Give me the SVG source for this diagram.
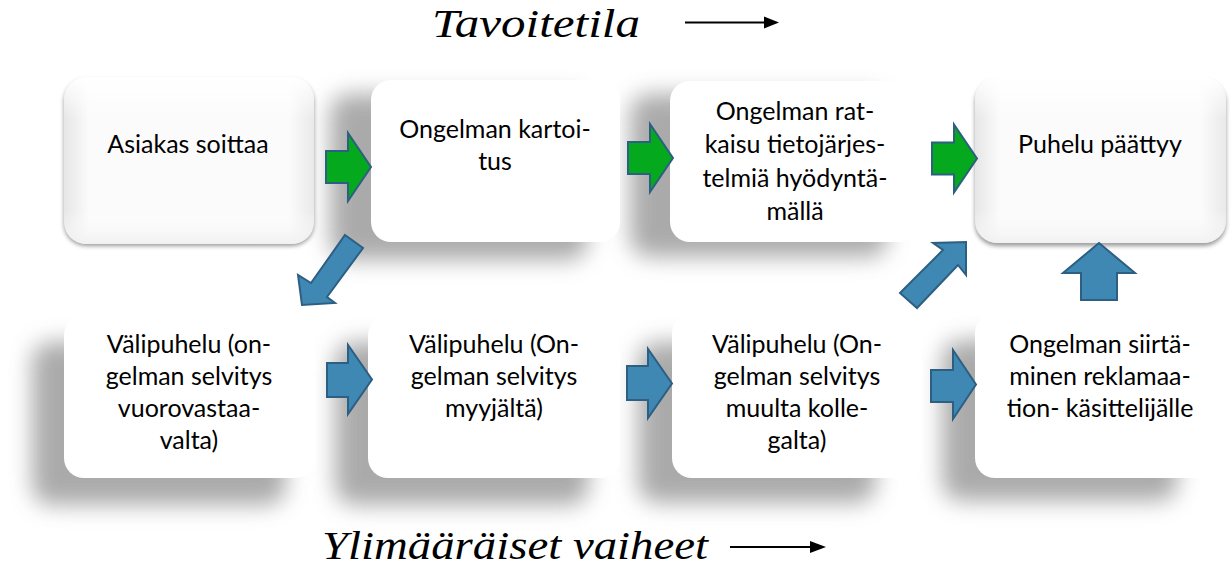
<svg xmlns="http://www.w3.org/2000/svg" width="1232" height="567" viewBox="0 0 1232 567">
<defs>
<filter id="sh" x="-30%" y="-30%" width="160%" height="160%"><feGaussianBlur stdDeviation="11"/></filter>
<filter id="sh2" x="-10%" y="-10%" width="120%" height="130%"><feGaussianBlur stdDeviation="2"/></filter>
<linearGradient id="bevH" x1="0" y1="0" x2="1" y2="0">
<stop offset="0" stop-color="#e6e6e6"/><stop offset="0.1" stop-color="#fbfbfb"/><stop offset="0.9" stop-color="#fbfbfb"/><stop offset="1" stop-color="#e9e9e9"/>
</linearGradient>
<linearGradient id="bevV" x1="0" y1="0" x2="0" y2="1">
<stop offset="0" stop-color="#ffffff" stop-opacity="1"/><stop offset="0.25" stop-color="#ffffff" stop-opacity="0"/><stop offset="0.8" stop-color="#ffffff" stop-opacity="0"/><stop offset="1" stop-color="#f0f0f0" stop-opacity="0.9"/>
</linearGradient>
<path id="rarrow" d="M0,-16 L22,-16 L22,-34 L45,0 L22,34 L22,16 L0,16 Z"/>
</defs>
<style>
.txt{font-family:Lato,"Open Sans","Liberation Sans",sans-serif;font-size:25px;fill:#000;text-anchor:middle}
.script{font-family:"Liberation Serif","DejaVu Serif",serif;font-style:italic;fill:#000}
.card{fill:#ffffff}
.shadow{fill:#9c9c9c;opacity:0.85;filter:url(#sh)}
.green{fill:#05a91d;stroke:#2c5f82;stroke-width:2;stroke-linejoin:miter}
.blue{fill:#3f88b4;stroke:#2c5f82;stroke-width:2;stroke-linejoin:miter}
.tline{stroke:#000;stroke-width:2.2}
</style>
<rect width="1232" height="567" fill="#fff"/>

<g id="shadows">
<rect class="shadow" x="330" y="94" width="258" height="166" rx="20"/>
<rect class="shadow" x="630" y="94" width="258" height="163" rx="20"/>
<rect class="shadow" x="32" y="342" width="254" height="163" rx="20"/>
<rect class="shadow" x="335" y="342" width="254" height="163" rx="20"/>
<rect class="shadow" x="638" y="342" width="238" height="161" rx="20"/>
<rect class="shadow" x="942" y="340" width="236" height="161" rx="20"/>
</g>

<g id="title-top">
<text class="script" x="432" y="37" font-size="40" textLength="208" lengthAdjust="spacingAndGlyphs">Tavoitetila</text>
<line class="tline" x1="685" y1="22.5" x2="766" y2="22.5"/>
<polygon points="764,16.5 779,22.5 764,28.5" fill="#000"/>
</g>
<g id="title-bottom">
<text class="script" x="322" y="559" font-size="40" textLength="386" lengthAdjust="spacingAndGlyphs">Ylimääräiset vaiheet</text>
<line class="tline" x1="730" y1="547" x2="812" y2="547"/>
<polygon points="810,541 826,547 810,553" fill="#000"/>
</g>

<g id="node-asiakas">
<rect x="64" y="80" width="250" height="166" rx="22" fill="#9a9a9a" filter="url(#sh2)"/>
<rect x="64" y="77" width="250" height="167" rx="22" fill="url(#bevH)"/>
<rect x="64" y="77" width="250" height="167" rx="22" fill="url(#bevV)"/>
<text class="txt" x="188" y="153">Asiakas  soittaa</text>
</g>
<g id="node-kartoitus">
<rect class="card" x="371" y="80" width="249" height="162" rx="20"/>
<text class="txt" x="495" y="138">Ongelman  kartoi-</text>
<text class="txt" x="495" y="170">tus</text>
</g>
<g id="node-ratkaisu">
<rect class="card" x="670" y="81" width="250" height="161" rx="20"/>
<text class="txt" x="795" y="120">Ongelman rat-</text>
<text class="txt" x="795" y="153">kaisu tietojärjes-</text>
<text class="txt" x="795" y="187">telmiä hyödyntä-</text>
<text class="txt" x="795" y="220">mällä</text>
</g>
<g id="node-paattyy">
<rect x="975" y="81" width="251" height="165" rx="22" fill="#9a9a9a" filter="url(#sh2)"/>
<rect x="975" y="77" width="251" height="166" rx="22" fill="url(#bevH)"/>
<rect x="975" y="77" width="251" height="166" rx="22" fill="url(#bevV)"/>
<text class="txt" x="1100" y="153">Puhelu päättyy</text>
</g>
<g id="node-vuorovastaava">
<rect class="card" x="64" y="315" width="251" height="163" rx="20"/>
<text class="txt" x="189" y="353">Välipuhelu (on-</text>
<text class="txt" x="189" y="385">gelman selvitys</text>
<text class="txt" x="189" y="417">vuorovastaa-</text>
<text class="txt" x="189" y="449">valta)</text>
</g>
<g id="node-myyja">
<rect class="card" x="368" y="315" width="252" height="163" rx="20"/>
<text class="txt" x="494" y="353">Välipuhelu (On-</text>
<text class="txt" x="494" y="385">gelman selvitys</text>
<text class="txt" x="494" y="417">myyjältä)</text>
</g>
<g id="node-kollega">
<rect class="card" x="672" y="313" width="250" height="165" rx="20"/>
<text class="txt" x="797" y="353">Välipuhelu (On-</text>
<text class="txt" x="797" y="385">gelman selvitys</text>
<text class="txt" x="797" y="417">muulta kolle-</text>
<text class="txt" x="797" y="449">galta)</text>
</g>
<g id="node-siirto">
<rect class="card" x="975" y="313" width="251" height="165" rx="20"/>
<text class="txt" x="1100" y="353">Ongelman siirtä-</text>
<text class="txt" x="1100" y="385">minen reklamaa-</text>
<text class="txt" x="1100" y="417">tion- käsittelijälle</text>
</g>

<g id="connectors">
<use href="#rarrow" class="green" transform="translate(326,167)"/>
<use href="#rarrow" class="green" transform="translate(628,158)"/>
<use href="#rarrow" class="green" transform="translate(932,158.5)"/>
<path class="blue" d="M345,235 L363,248 L327,297 L335,303 L302,305 L298,275 L311,283 Z"/>
<path class="blue" d="M327,363 L348,363 L348,345 L372,379.5 L348,414 L348,397 L327,397 Z"/>
<path class="blue" d="M627,366 L648,366 L648,349 L672,383.5 L648,418 L648,400 L627,400 Z"/>
<path class="blue" d="M931,370 L953,370 L953,350 L976,384.5 L953,419 L953,402 L931,402 Z"/>
<path class="blue" d="M900,293 L943,250 L933,243 L966,242 L966,275 L958,265 L917,308 Z"/>
<path class="blue" d="M1081,300 L1081,273 L1063,273 L1099,243 L1135,273 L1117,273 L1117,300 Z"/>
</g>
</svg>
